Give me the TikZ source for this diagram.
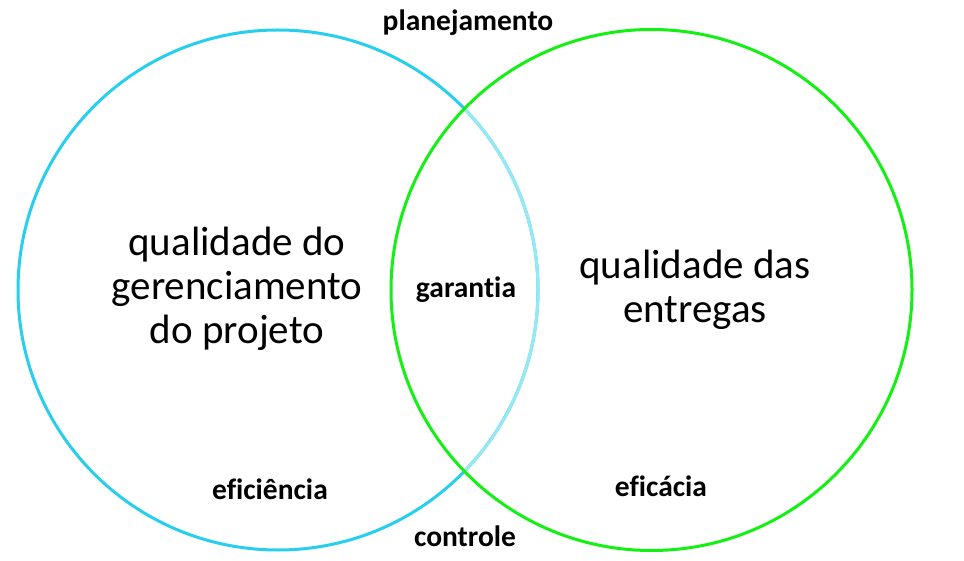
\documentclass[tikz,border=0pt]{standalone}
\usepackage{fontspec}
\setmainfont[Ligatures=CommonOff]{Carlito}
\definecolor{cyanline}{RGB}{40,206,238}
\definecolor{cyanlight}{RGB}{150,232,245}
\definecolor{greenline}{RGB}{20,240,20}
\begin{document}
\begin{tikzpicture}[x=1pt,y=-1pt,
  ring/.style={line width=3pt},
  big/.style={font=\fontsize{41}{44}\selectfont, align=center, inner sep=0pt},
  lbl/.style={font=\fontsize{29.5}{32}\selectfont\bfseries, inner sep=0pt}]
\useasboundingbox[fill=white] (0,0) rectangle (964,561);
\coordinate (cL) at (278,290);
\coordinate (cR) at (651.5,290);
\draw[ring, cyanline] (cL) circle[radius=260];
\begin{scope}
  \clip (cR) circle[radius=260];
  \draw[ring, cyanlight] (cL) circle[radius=260];
\end{scope}
\draw[ring, greenline] (cR) circle[radius=260.5];
\node[lbl] (plan) at (468,23) {planejamento};
\node[lbl] (ctrl) at (465,536) {controle};
\node[lbl] (gar) at (466,290) {garant\kern0pt ia};
\node[lbl] (efi) at (270,489) {ef\kern0pt iciência};
\node[lbl] (efa) at (661,486) {ef\kern0pt icácia};
\node[big] (left) at (237,289) {qualidade do\\gerenciamento\\do projeto};
\node[big] (right) at (695,290) {qualidade das\\entregas};
\end{tikzpicture}
\end{document}
